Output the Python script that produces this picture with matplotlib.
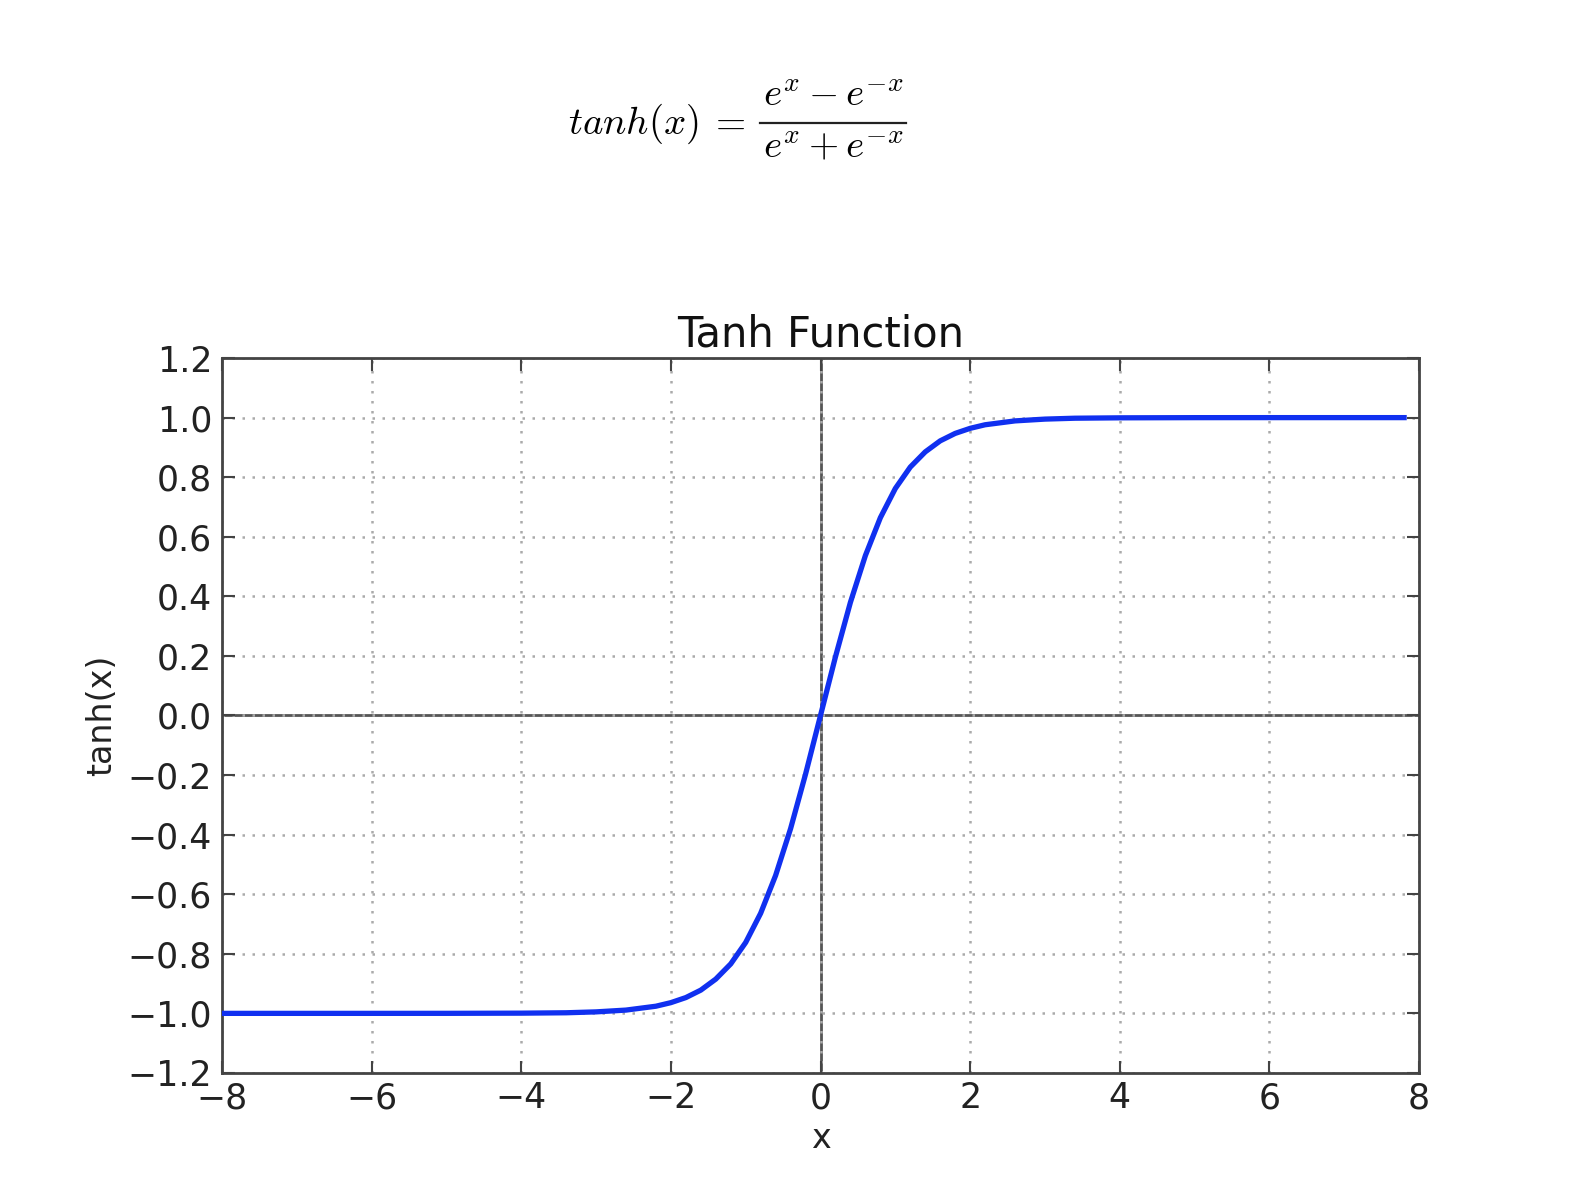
import matplotlib
matplotlib.use('Agg')
import matplotlib.pyplot as plt
from matplotlib.lines import Line2D

# values
x_vals = [-8.0, -7.0, -6.0, -5.0, -4.0, -3.4, -3.0, -2.6, -2.2, -2.0, -1.8, -1.6, -1.4, -1.2,
          -1.0, -0.8, -0.6, -0.4, -0.2, 0.0, 0.2, 0.4, 0.6, 0.8, 1.0, 1.2, 1.4, 1.6,
          1.8, 2.0, 2.2, 2.6, 3.0, 3.4, 4.0, 5.0, 6.0, 7.0, 7.8]
y_vals = [-1.0, -1.0, -1.0, -0.9999, -0.9993, -0.998, -0.995, -0.989, -0.976, -0.964, -0.947,
          -0.922, -0.885, -0.834, -0.762, -0.664, -0.537, -0.380, -0.197, 0.0, 0.197, 0.380,
          0.537, 0.664, 0.762, 0.834, 0.885, 0.922, 0.947, 0.964, 0.976, 0.989, 0.995,
          0.998, 0.9993, 0.9999, 1.0, 1.0, 1.0]

xticks = [-8, -6, -4, -2, 0, 2, 4, 6, 8]
yticks = [-1.2, -1.0, -0.8, -0.6, -0.4, -0.2, 0.0, 0.2, 0.4, 0.6, 0.8, 1.0, 1.2]

plt.rcParams['mathtext.fontset'] = 'cm'

fig = plt.figure(figsize=(15.82, 11.84), dpi=100)
ax = fig.add_axes([0.1403, 0.0938, 0.7567, 0.6038])

# formula, built in pieces so the fraction keeps full size
fs = 28
fig.text(0.4415, 0.8868, r'$tanh(x)$', ha='right', va='baseline', fontsize=fs)
fig.text(0.4595, 0.8868, r'$=$', ha='center', va='baseline', fontsize=fs)
fig.text(0.5266, 0.9105, r'$e^x - e^{-x}$', ha='center', va='baseline', fontsize=fs)
fig.text(0.5266, 0.8666, r'$e^x + e^{-x}$', ha='center', va='baseline', fontsize=fs)
fig.add_artist(Line2D([760 / 1582, 906 / 1582], [0.8964, 0.8964],
                      transform=fig.transFigure, color='#222222', lw=1.6))

ax.axhline(0, color='#555555', lw=2, zorder=1)
ax.axvline(0, color='#555555', lw=2, zorder=1)
ax.plot(x_vals, y_vals, color='#1030f0', lw=3.8, zorder=3)

ax.set_xlim(-8, 8)
ax.set_ylim(-1.2, 1.2)
ax.set_xticks(xticks)
ax.set_yticks(yticks)
ax.set_yticklabels([f'{t:.1f}'.replace('-', '\u2212') for t in yticks])
ax.set_xticklabels([str(t).replace('-', '\u2212') for t in xticks])
ax.grid(True, linestyle=(0, (1, 3)), color='#aaaaaa', lw=1.8)
ax.tick_params(direction='in', length=9, width=1.5, labelsize=25, pad=7,
               top=True, right=True, colors='#444444', labelcolor='#222222')
ax.tick_params(axis='x', pad=6)
for s in ax.spines.values():
    s.set_linewidth(2)
    s.set_color('#444444')

ax.set_title('Tanh Function', fontsize=30, pad=8, color='#111111')
ax.set_xlabel('x', fontsize=24, labelpad=5, color='#222222')
ax.set_ylabel('tanh(x)', fontsize=24, labelpad=7, color='#222222')

fig.savefig('out.png', dpi=100, facecolor='white')
